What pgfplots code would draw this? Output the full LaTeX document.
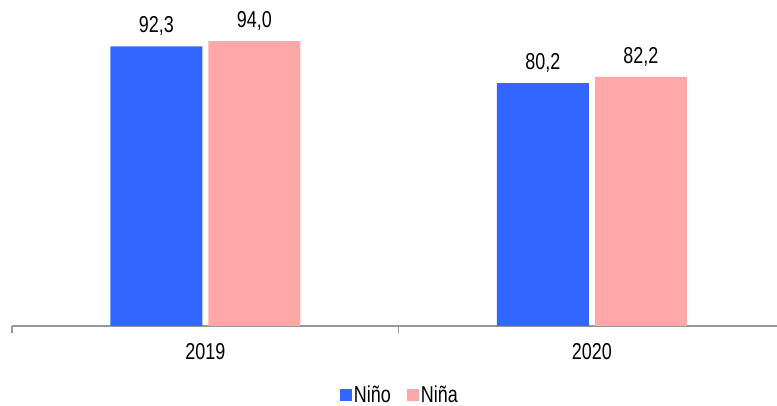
\documentclass[border=0pt]{standalone}
\usepackage{fontspec}
\setmainfont[FakeStretch=0.78]{Liberation Sans}
\usepackage{pgfplots}
\pgfplotsset{compat=1.18}
\definecolor{nino}{RGB}{51,102,255}
\definecolor{nina}{RGB}{255,168,170}
\begin{document}
\begin{tikzpicture}[x=1pt,y=1pt]
\path[use as bounding box] (0,0) rectangle (777,406);
\begin{axis}[
  at={(12pt,80pt)}, anchor=south west,
  scale only axis, width=765pt, height=326pt,
  xmin=-0.5, xmax=1.479, ymin=0, ymax=107.6,
  axis y line=none, axis x line*=bottom,
  axis line style={draw=gray!80, line width=1.2pt},
  xtick={0,1}, xticklabels={2019,2020},
  major tick length=0pt,
  extra x ticks={-0.5,0.5}, extra x tick labels={},
  extra x tick style={major tick length=7pt, tick align=outside, tick style={draw=gray!80, line width=1.2pt}},
  xticklabel style={font=\fontsize{23}{26}\selectfont, anchor=north, yshift=-14pt},
  /pgf/number format/assume math mode=true,
  ybar, bar width=92pt,
  nodes near coords,
  nodes near coords style={font=\fontsize{23}{26}\selectfont, anchor=south, yshift=7pt,
     /pgf/number format/.cd, fixed, fixed zerofill, precision=1, use comma},
  legend style={at={(0.507,-0.212)}, anchor=center, draw=none, legend columns=2,
     font=\fontsize{23}{26}\selectfont, /tikz/every even column/.append style={column sep=14pt}},
  legend image code/.code={\fill[#1] (0pt,-6pt) rectangle (12pt,6pt);},
]
\addplot[fill=nino, draw=none, bar shift=-49pt] coordinates {(0,92.3) (1,80.2)};
\addplot[fill=nina, draw=none, bar shift=49pt] coordinates {(0,94.0) (1,82.2)};
\legend{Niño, Niña}
\end{axis}
\end{tikzpicture}
\end{document}
